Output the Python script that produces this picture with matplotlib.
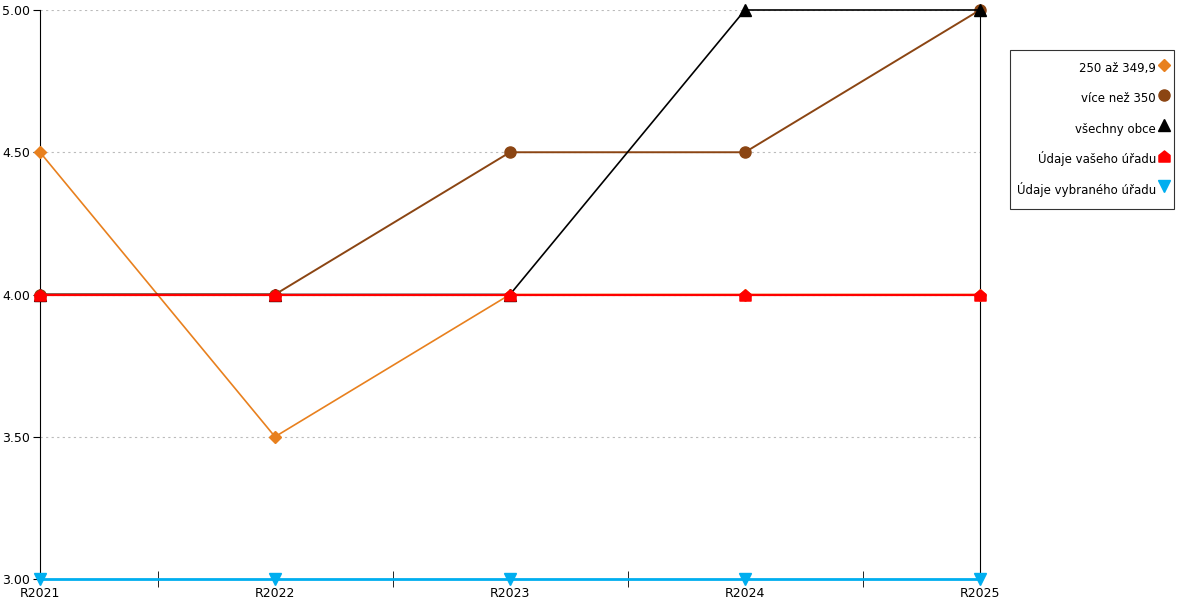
import numpy as np
import matplotlib.pyplot as plt
from matplotlib.path import Path

categories = ["R2021", "R2022", "R2023", "R2024", "R2025"]
s_250 = [4.5, 3.5, 4.0, 4.0, 4.0]
s_350 = [4.0, 4.0, 4.5, 4.5, 5.0]
s_all = [4.0, 4.0, 4.0, 5.0, 5.0]
s_yours = [4.0, 4.0, 4.0, 4.0, 4.0]
s_selected = [3.0, 3.0, 3.0, 3.0, 3.0]
yticks = [3.0, 3.5, 4.0, 4.5, 5.0]

# house-shaped marker for "Údaje vašeho úřadu"
house = Path([(-1, -1), (1, -1), (1, 0.2), (0, 1), (-1, 0.2), (-1, -1)],
             [Path.MOVETO, Path.LINETO, Path.LINETO, Path.LINETO, Path.LINETO, Path.CLOSEPOLY])

fig = plt.figure(figsize=(12, 6), dpi=100)
ax = fig.add_axes([40 / 1200, 1 - 579 / 600, 940 / 1200, 569 / 600])
x = np.arange(len(categories))

ax.plot(x, s_250, color="#e8801e", lw=1.2, marker="D", ms=6, label="250 až 349,9", zorder=3, clip_on=False)
ax.plot(x, s_350, color="#8b4513", lw=1.4, marker="o", ms=8, label="více než 350", zorder=3, clip_on=False)
ax.plot(x, s_all, color="black", lw=1.2, marker="^", ms=8.5, label="všechny obce", zorder=3, clip_on=False)
ax.plot(x, s_yours, color="#ff0000", lw=1.6, marker=house, ms=8, label="Údaje vašeho úřadu", zorder=4, clip_on=False)
ax.plot(x, s_selected, color="#00aeef", lw=2, marker="v", ms=8.5, label="Údaje vybraného úřadu", zorder=4, clip_on=False)

ax.set_xlim(0, len(categories) - 1)
ax.set_ylim(3.0, 5.0)
ax.set_yticks(yticks)
ax.set_yticklabels([f"{v:.2f}" for v in yticks])
ax.set_xticks(x)
ax.set_xticklabels(categories)
ax.set_xticks(x[:-1] + 0.5, minor=True)
ax.tick_params(axis="x", which="major", length=0, pad=6, labelsize=9)
ax.tick_params(axis="x", which="minor", length=12, direction="inout", color="black")
ax.tick_params(axis="y", length=5, labelsize=9, pad=2)
ax.grid(axis="y", color="#bbbbbb", linestyle=(0, (2, 3)), lw=0.8)
ax.spines["top"].set_visible(False)
ax.spines["bottom"].set_visible(False)

leg = ax.legend(loc="upper left", bbox_to_anchor=(1.0315, 0.9297), markerfirst=False,
                frameon=True, fancybox=False, edgecolor="black", fontsize=8.5,
                handlelength=0.4, handleheight=2.6, handletextpad=0.5, labelspacing=0.64,
                borderpad=0.6, borderaxespad=0)
for t in leg.get_texts():
    t.set_ha("right")
leg.get_frame().set_linewidth(0.8)
for h in leg.legend_handles:
    h.set_linestyle("none")

fig.savefig("out.png")
